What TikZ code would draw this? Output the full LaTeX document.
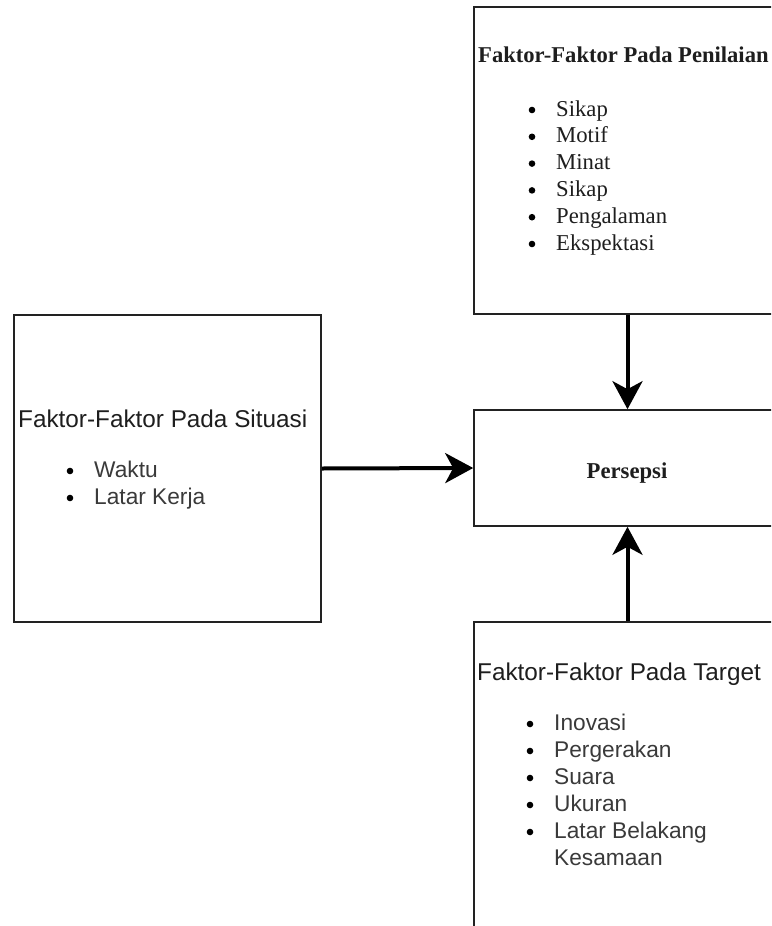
\documentclass[tikz,border=0pt]{standalone}
\usepackage{fontspec}
\setmainfont{Liberation Serif}
\newfontfamily\arialfont{Liberation Sans}
\usetikzlibrary{arrows.meta}
\definecolor{txt}{HTML}{1E1E1E}
\definecolor{txtsans}{HTML}{3A3A3A}
\definecolor{border}{HTML}{222222}
\tikzset{
  box/.style={draw=border, line width=1.6pt, minimum width=307pt, inner sep=0pt, fill=white},
  flow/.style={line width=4pt, black, -{Stealth[length=28pt,width=30pt,inset=8pt]}},
  seriftitle/.style={font=\fontsize{22.6}{27}\selectfont\bfseries, text=txt, inner sep=0pt, anchor=base west},
  serifitem/.style={font=\fontsize{22.7}{27}\selectfont, text=txt, inner sep=0pt, anchor=base west},
  sanstitle/.style={font=\arialfont\fontsize{24.3}{28}\selectfont, text=txt, inner sep=0pt, anchor=base west},
  sansitem/.style={font=\arialfont\fontsize{22.7}{27}\selectfont, text=txtsans, inner sep=0pt, anchor=base west},
  dot/.style={circle, fill=black, inner sep=0pt, minimum size=6.6pt},
}
\begin{document}
\begin{tikzpicture}[x=1pt, y=-1pt]
\useasboundingbox (0,0) rectangle (771,926);
\clip (0,0) rectangle (771,926);
\fill[white] (0,0) rectangle (771,926);

% boxes
\node[box, minimum height=307pt] (pen) at (627.5,160.5) {};
\node[box, minimum height=307pt] (sit) at (167.5,468.5) {};
\node[box, minimum height=116pt] (per) at (627.5,468) {};
\node[box, minimum height=307pt] (tar) at (627.5,775.5) {};

% Penilaian
\node[seriftitle] (pent) at (478,62) {Faktor-Faktor Pada Penilaian};
\foreach \t [count=\i] in {Sikap,Motif,Minat,Sikap,Pengalaman,Ekspektasi}{
  \node[serifitem] (pen\i) at (556,{116+26.8*(\i-1)}) {\t};
  \node[dot] (penb\i) at (532,{110+26.8*(\i-1)}) {};
}

% Persepsi
\node[font=\fontsize{22.7}{27}\selectfont\bfseries, text=txt, inner sep=0pt, anchor=base] (pert) at (627,478) {Persepsi};

% Situasi
\node[sanstitle] (sitt) at (18,427) {Faktor-Faktor Pada Situasi};
\foreach \t [count=\i] in {Waktu,Latar Kerja}{
  \node[sansitem] (sit\i) at (94,{477+27*(\i-1)}) {\t};
  \node[dot] (sitb\i) at (70,{471+27*(\i-1)}) {};
}

% Target
\node[sanstitle] (tart) at (477,680) {Faktor-Faktor Pada Target};
\foreach \t [count=\i] in {Inovasi,Pergerakan,Suara,Ukuran,Latar Belakang}{
  \node[sansitem] (tar\i) at (554,{730+27*(\i-1)}) {\t};
  \node[dot] (tarb\i) at (530,{724+27*(\i-1)}) {};
}
\node[sansitem] (tar6) at (554,865) {Kesamaan};

% connectors
\draw[flow] (sit.east) -- (per.west);
\draw[flow] (pen.south) -- (per.north);
\draw[flow] (tar.north) -- (per.south);
\end{tikzpicture}
\end{document}
